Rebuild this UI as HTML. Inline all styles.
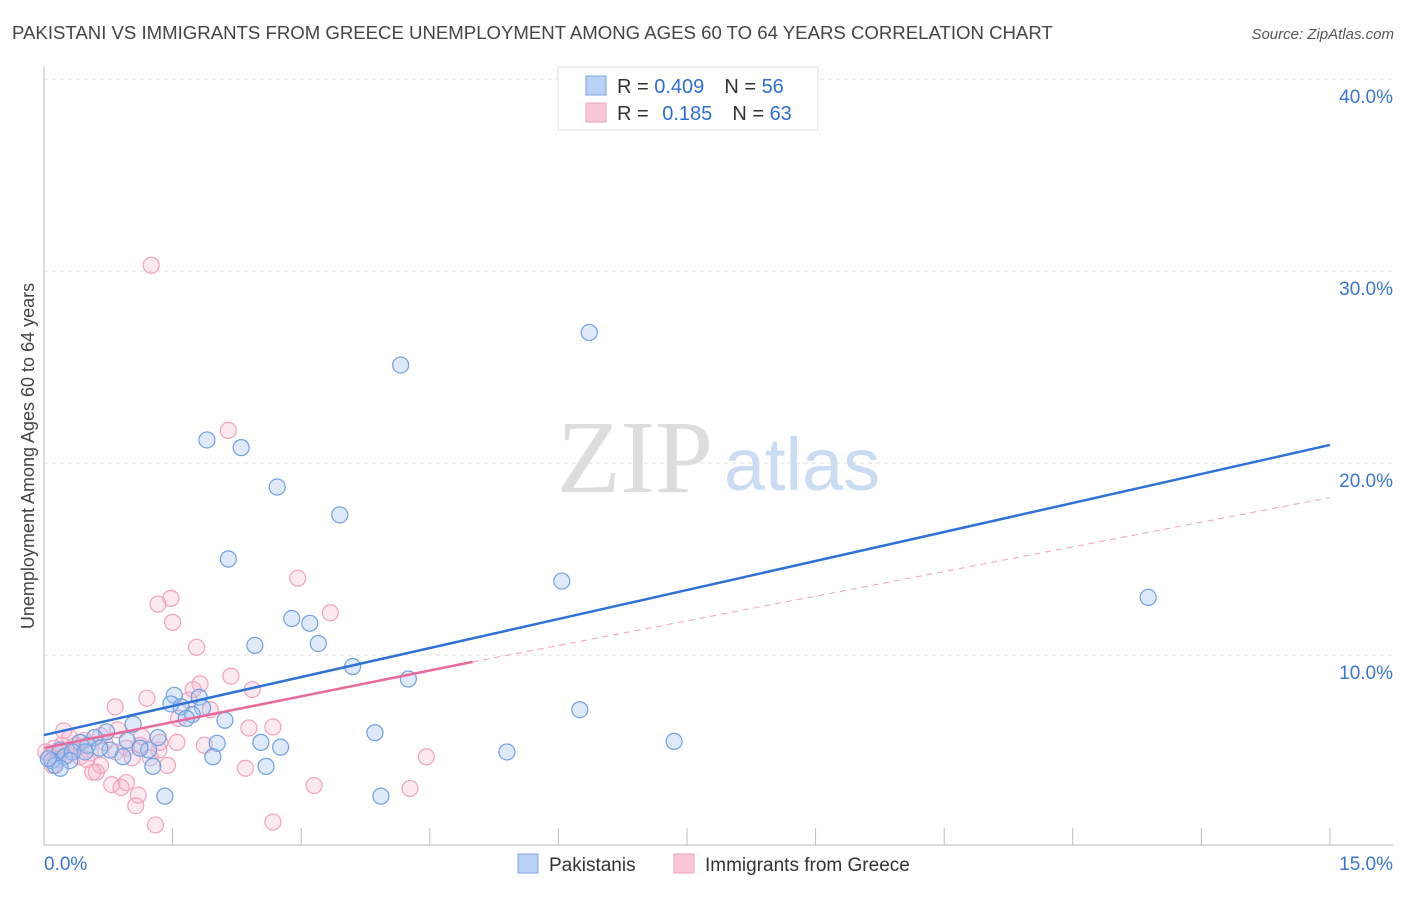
<!DOCTYPE html>
<html><head><meta charset="utf-8"><style>
body{margin:0;background:#fff;font-family:"Liberation Sans",sans-serif}
svg text{font-family:"Liberation Sans",sans-serif}
</style></head><body>
<svg id="c" width="1406" height="892" xmlns="http://www.w3.org/2000/svg">
<text x="12" y="39" font-size="18.6" fill="#444">PAKISTANI VS IMMIGRANTS FROM GREECE UNEMPLOYMENT AMONG AGES 60 TO 64 YEARS CORRELATION CHART</text>
<text x="1394" y="39" font-size="15" fill="#555" font-style="italic" text-anchor="end">Source: ZipAtlas.com</text>
<text transform="translate(34,456) rotate(-90)" font-size="18" fill="#444" text-anchor="middle">Unemployment Among Ages 60 to 64 years</text>
<g><text x="635" y="492" font-size="104" fill="#ddd" text-anchor="middle" style="font-family:'Liberation Serif',serif">ZIP</text><text x="802" y="490" font-size="74" fill="#c9dcf3" text-anchor="middle">atlas</text></g>
<g id="grid"></g><g id="axes"></g><g id="pts"></g><g id="lines"></g>
<g>
<rect x="558" y="67" width="260" height="63" fill="#fff" stroke="#ddd"/>
<rect x="586" y="76" width="20" height="19" fill="#b8d2f5" stroke="#7aa6e0"/>
<rect x="586" y="103" width="20" height="19" fill="#f9c6d6" stroke="#eea4bd"/>
<text x="617" y="93" font-size="20" fill="#333">R = <tspan fill="#2f6fd0">0.409</tspan><tspan dx="20">N = </tspan><tspan fill="#2f6fd0">56</tspan></text>
<text x="617" y="120" font-size="20" fill="#333">R = <tspan fill="#2f6fd0" dx="8">0.185</tspan><tspan dx="20">N = </tspan><tspan fill="#2f6fd0">63</tspan></text>
</g>
<g>
<rect x="518" y="854" width="20" height="19" fill="#b8d2f5" stroke="#7aa6e0"/>
<text x="549" y="871" font-size="19" fill="#333">Pakistanis</text>
<rect x="674" y="854" width="20" height="19" fill="#f9c6d6" stroke="#eea4bd"/>
<text x="705" y="871" font-size="19" fill="#333">Immigrants from Greece</text>
</g>
</svg>
<script>
const xTicks=[0,1.5,3,4.5,6,7.5,9,10.5,12,13.5,15];
const yTicks=[10,20,30,40];
const yTickLabels=["10.0%","20.0%","30.0%","40.0%"];
const xLabels=["0.0%","15.0%"];
const blueX=[6.36,4.16,1.90,2.30,2.72,3.45,2.15,6.04,12.88,2.89,3.10,3.20,2.46,3.60,4.25,1.52,1.81,1.48,1.60,1.85,1.73,1.66,2.11,6.25,1.04,0.73,3.86,7.35,1.33,2.02,2.53,2.76,0.97,0.59,0.42,5.40,1.97,2.59,1.27,1.22,0.92,1.12,0.77,1.41,3.93,0.19,0.09,0.24,0.33,0.51,0.13,0.05,0.30,0.65,0.19,0.48];
const blueY=[26.8,25.1,21.2,20.8,18.75,17.3,15.0,13.85,13.0,11.9,11.65,10.6,10.5,9.4,8.75,7.9,7.8,7.45,7.3,7.25,6.9,6.7,6.6,7.15,6.4,6.0,5.95,5.5,5.7,5.4,5.45,5.2,5.55,5.7,5.45,4.95,4.7,4.2,4.2,5.05,4.7,5.15,5.05,2.65,2.65,5.05,4.5,4.7,4.95,5.3,4.25,4.6,4.5,5.15,4.1,4.95];
const pinkX=[1.25,2.15,2.96,1.48,1.33,3.34,1.50,1.78,2.18,1.82,2.43,1.74,1.20,1.69,0.83,1.94,1.57,2.39,2.67,0.23,1.55,1.87,1.14,0.66,0.47,0.37,0.96,1.34,0.84,0.54,1.03,4.46,1.44,0.66,0.61,2.35,0.57,0.96,0.79,0.90,3.15,4.27,1.10,1.07,1.30,2.67,0.12,0.19,0.28,0.07,0.16,0.35,0.42,0.21,0.02,0.71,0.50,1.12,1.24,0.30,0.10,0.86,1.35];
const pinkY=[30.3,21.7,14.0,12.95,12.65,12.2,11.7,10.4,8.9,8.5,8.2,8.2,7.75,7.65,7.3,7.15,6.7,6.2,6.25,6.05,5.45,5.3,5.75,5.8,5.55,5.3,5.15,5.05,4.95,4.9,4.65,4.7,4.25,4.25,3.9,4.1,3.9,3.35,3.25,3.1,3.2,3.05,2.7,2.15,1.15,1.3,5.15,4.95,4.8,4.7,4.55,5.05,4.7,5.3,4.95,5.45,4.55,5.3,4.65,5.7,4.25,6.1,5.45];
const blueLine=[[0,5.83],[15,20.94]];
const pinkLine=[[0,5.16],[5,9.64]];
const pinkDash=[[5,9.64],[15,18.2]];
const X=v=>44+v*85.73, Y=v=>847-v*19.2;
const NS="http://www.w3.org/2000/svg";
function mk(tag,attrs,parent){const e=document.createElementNS(NS,tag);for(const k in attrs)e.setAttribute(k,attrs[k]);document.getElementById(parent).appendChild(e);return e;}
yTicks.forEach((t,i)=>{
 const g=mk('line',{x1:44,x2:1393,y1:Y(t),y2:Y(t),stroke:'#ddd','stroke-dasharray':'4,4'},'grid');
 
 
 const l=mk('text',{x:1393,y:Y(t)+24,'font-size':19,fill:'#3a74d0','text-anchor':'end'},'grid');
 l.textContent=yTickLabels[i];
 
 
});
const topGrid=mk('line',{x1:44,x2:1393,y1:79,y2:79,stroke:'#ddd','stroke-dasharray':'4,4'},'grid');


const ya=mk('line',{x1:44,x2:44,y1:67,y2:845,stroke:'#bbb'},'axes');


const xa=mk('line',{x1:44,x2:1393,y1:845,y2:845,stroke:'#bbb'},'axes');


xTicks.forEach(t=>{const k=mk('line',{x1:X(t),x2:X(t),y1:828,y2:845,stroke:'#bbb'},'axes');
 
 });
const xl0=mk('text',{x:44,y:870,'font-size':19,fill:'#3a74d0'},'axes');xl0.textContent=xLabels[0];


const xl1=mk('text',{x:1393,y:870,'font-size':19,fill:'#3a74d0','text-anchor':'end'},'axes');xl1.textContent=xLabels[1];


pinkX.forEach((v,i)=>{const c=mk('circle',{cx:X(v),cy:Y(pinkY[i]),r:8,fill:'rgba(246,180,202,0.3)',stroke:'#f0a3bd','stroke-width':1.2},'pts');
 
 });
blueX.forEach((v,i)=>{const c=mk('circle',{cx:X(v),cy:Y(blueY[i]),r:8,fill:'rgba(160,195,240,0.35)',stroke:'#6fa0e0','stroke-width':1.2},'pts');
 
 });
const pd=mk('line',{x1:X(pinkDash[0][0]),y1:Y(pinkDash[0][1]),x2:X(pinkDash[1][0]),y2:Y(pinkDash[1][1]),stroke:'#eda0bb','stroke-dasharray':'6,5','stroke-width':1},'lines');


const bl=mk('line',{x1:X(blueLine[0][0]),y1:Y(blueLine[0][1]),x2:X(blueLine[1][0]),y2:Y(blueLine[1][1]),stroke:'#2f72d6','stroke-width':2.5},'lines');


const pl=mk('line',{x1:X(pinkLine[0][0]),y1:Y(pinkLine[0][1]),x2:X(pinkLine[1][0]),y2:Y(pinkLine[1][1]),stroke:'#e86a9a','stroke-width':2.5},'lines');


</script>
</body></html>
